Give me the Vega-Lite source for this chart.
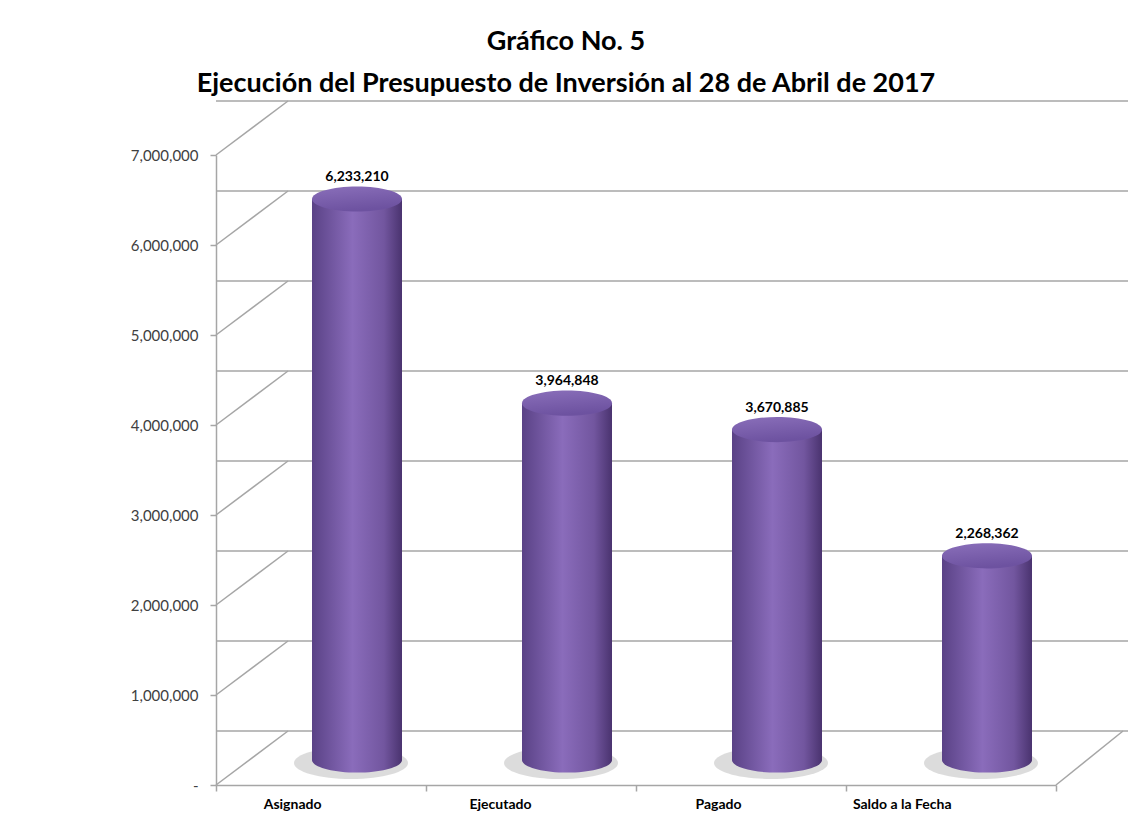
{
  "$schema": "https://vega.github.io/schema/vega-lite/v6.json",
  "width": 840,
  "height": 630,
  "autosize": {"type": "none"},
  "padding": {"left": 216, "top": 155, "right": 77, "bottom": 42},
  "background": "white",
  "config": {"view": {"stroke": null}, "font": "Lato"},
  "title": {
    "text": ["Gráfico No. 5", "Ejecución del Presupuesto de Inversión al 28 de Abril de 2017"],
    "fontSize": 27,
    "fontWeight": "bold",
    "font": "Lato",
    "color": "#000000",
    "lineHeight": 42,
    "anchor": "middle",
    "dx": -70,
    "offset": 2
  },
  "datasets": {
    "bars": [
      {"categoria": "Asignado", "monto": 6233210},
      {"categoria": "Ejecutado", "monto": 3964848},
      {"categoria": "Pagado", "monto": 3670885},
      {"categoria": "Saldo a la Fecha", "monto": 2268362}
    ],
    "ticks": [
      {"v": 0}, {"v": 1000000}, {"v": 2000000}, {"v": 3000000},
      {"v": 4000000}, {"v": 5000000}, {"v": 6000000}, {"v": 7000000}
    ],
    "floor": [{"v": 0}]
  },
  "resolve": {"scale": {"x": "independent"}, "axis": {"x": "independent"}},
  "layer": [
    {
      "data": {"name": "ticks"},
      "mark": {"type": "rule", "color": "#a6a6a6", "strokeWidth": 1.5, "xOffset": 72, "x2Offset": 67, "yOffset": -54, "y2Offset": -54},
      "encoding": {
        "y": {
          "field": "v", "type": "quantitative",
          "scale": {"domain": [0, 7000000], "nice": false},
          "axis": {
            "values": [0, 1000000, 2000000, 3000000, 4000000, 5000000, 6000000, 7000000],
            "labelExpr": "datum.value == 0 ? '-' : format(datum.value, ',')",
            "domainColor": "#a6a6a6", "domainWidth": 1.5,
            "tickColor": "#a6a6a6", "tickWidth": 1.5, "tickSize": 6,
            "labelFontSize": 15, "labelColor": "#404040", "labelPadding": 12,
            "grid": false, "title": null
          }
        }
      }
    },
    {
      "data": {"name": "ticks"},
      "mark": {"type": "rule", "color": "#a6a6a6", "strokeWidth": 1.5, "x2Offset": 72, "y2Offset": -54},
      "encoding": {
        "x": {"datum": 0, "type": "quantitative", "scale": {"domain": [0, 1]}, "axis": null},
        "x2": {"datum": 0},
        "y": {"field": "v", "type": "quantitative"},
        "y2": {"field": "v"}
      }
    },
    {
      "data": {"name": "floor"},
      "mark": {"type": "rule", "color": "#a6a6a6", "strokeWidth": 1.5, "x2Offset": 67, "y2Offset": -54},
      "encoding": {
        "x": {"datum": 1, "type": "quantitative", "scale": {"domain": [0, 1]}, "axis": null},
        "x2": {"datum": 1},
        "y": {"field": "v", "type": "quantitative"},
        "y2": {"field": "v"}
      }
    },
    {
      "data": {"name": "bars"},
      "layer": [
        {
          "mark": {"type": "point", "shape": "M -1 0 A 1 0.28 0 1 0 1 0 A 1 0.28 0 1 0 -1 0 Z", "filled": true, "color": "#8c8c8c", "opacity": 0.3, "size": 13000, "xOffset": 30, "yOffset": -22},
          "encoding": {
            "x": {"field": "categoria", "type": "nominal"},
            "y": {"datum": 0, "type": "quantitative"}
          }
        },
        {
          "mark": {
            "type": "bar", "width": 90, "xOffset": 36, "yOffset": -25, "y2Offset": -25,
            "color": {"gradient": "linear", "x1": 0, "x2": 1, "y1": 0, "y2": 0,
              "stops": [
                {"offset": 0, "color": "#5a4286"},
                {"offset": 0.45, "color": "#8a6cbb"},
                {"offset": 0.8, "color": "#72569f"},
                {"offset": 1, "color": "#4a336f"}
              ]}
          },
          "encoding": {
            "x": {
              "field": "categoria", "type": "nominal", "sort": null,
              "scale": {"paddingInner": 0, "paddingOuter": 0},
              "axis": {
                "title": null, "labelAngle": 0, "labelFontSize": 14, "labelFontWeight": "bold",
                "labelColor": "#000000", "labelPadding": 13,
                "domainColor": "#a6a6a6", "domainWidth": 1.5,
                "tickColor": "#a6a6a6", "tickWidth": 1.5, "tickSize": 6, "tickBand": "extent"
              }
            },
            "y": {"field": "monto", "type": "quantitative"}
          }
        },
        {
          "mark": {
            "type": "point", "shape": "M -1 0 A 1 0.28 0 1 0 1 0 A 1 0.28 0 1 0 -1 0 Z", "filled": true, "opacity": 1, "size": 8100, "xOffset": 36, "yOffset": -25,
            "color": {"gradient": "linear", "x1": 0, "x2": 1, "y1": 0, "y2": 0,
              "stops": [
                {"offset": 0, "color": "#5a4286"},
                {"offset": 0.45, "color": "#8a6cbb"},
                {"offset": 0.8, "color": "#72569f"},
                {"offset": 1, "color": "#4a336f"}
              ]}
          },
          "encoding": {
            "x": {"field": "categoria", "type": "nominal", "sort": null},
            "y": {"datum": 0, "type": "quantitative"}
          }
        },
        {
          "mark": {
            "type": "point", "shape": "M -1 0 A 1 0.28 0 1 0 1 0 A 1 0.28 0 1 0 -1 0 Z", "filled": true, "opacity": 1, "size": 8100, "xOffset": 36, "yOffset": -25,
            "color": {"gradient": "linear", "x1": 0, "x2": 0.3, "y1": 0, "y2": 1,
              "stops": [
                {"offset": 0, "color": "#8a6fba"},
                {"offset": 1, "color": "#6d52a0"}
              ]}
          },
          "encoding": {
            "x": {"field": "categoria", "type": "nominal", "sort": null},
            "y": {"field": "monto", "type": "quantitative"}
          }
        },
        {
          "mark": {"type": "text", "dx": 36, "dy": -40, "baseline": "bottom", "fontSize": 14, "fontWeight": "bold", "color": "#000000", "font": "Lato"},
          "encoding": {
            "x": {"field": "categoria", "type": "nominal", "sort": null},
            "y": {"field": "monto", "type": "quantitative"},
            "text": {"field": "monto", "type": "quantitative", "format": ","}
          }
        }
      ]
    }
  ]
}
